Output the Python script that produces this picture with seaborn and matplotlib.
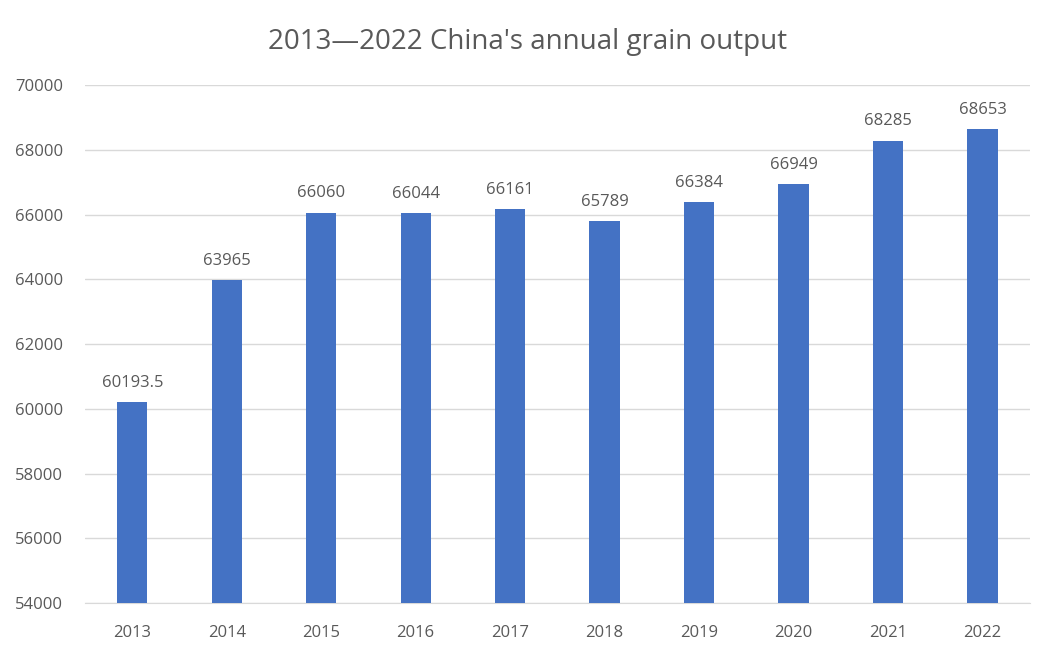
import pandas as pd
import matplotlib
matplotlib.use("Agg")
import matplotlib.pyplot as plt
import seaborn as sns

years = ["2013", "2014", "2015", "2016", "2017", "2018", "2019", "2020", "2021", "2022"]
output = [60193.5, 63965, 66060, 66044, 66161, 65789, 66384, 66949, 68285, 68653]
labels = ["60193.5", "63965", "66060", "66044", "66161", "65789", "66384", "66949", "68285", "68653"]

df = pd.DataFrame({"year": years, "output": output})

sns.set_style("white")
plt.rcParams["font.family"] = ["Open Sans", "DejaVu Sans"]
txt = "#595959"

fig = plt.figure(figsize=(10.55, 6.62), dpi=100)
ax = fig.add_axes([0.0806, 0.0891, 0.8954, 0.7825])

sns.barplot(data=df, x="year", y="output", color="#4472C4", width=0.32,
            saturation=1, ax=ax, zorder=3, linewidth=0)

ax.set_ylim(54000, 70000)
ax.set_xlim(-0.5, 9.5)
ax.set_yticks(range(54000, 70001, 2000))
ax.grid(axis="y", color="#D9D9D9", linewidth=1, zorder=0)
ax.set_axisbelow(True)
for s in ["top", "right", "left"]:
    ax.spines[s].set_visible(False)
ax.spines["bottom"].set_color("#D9D9D9")
ax.tick_params(axis="both", length=0, labelsize=12, labelcolor=txt)
ax.tick_params(axis="y", pad=16)
ax.tick_params(axis="x", pad=16)
ax.set_xlabel("")
ax.set_ylabel("")

ax.bar_label(ax.containers[0], labels=labels, padding=8, fontsize=12, color=txt)

fig.suptitle("2013\u20142022 China's annual grain output", y=0.958, fontsize=20, color=txt)

fig.savefig("out.png", dpi=100)
